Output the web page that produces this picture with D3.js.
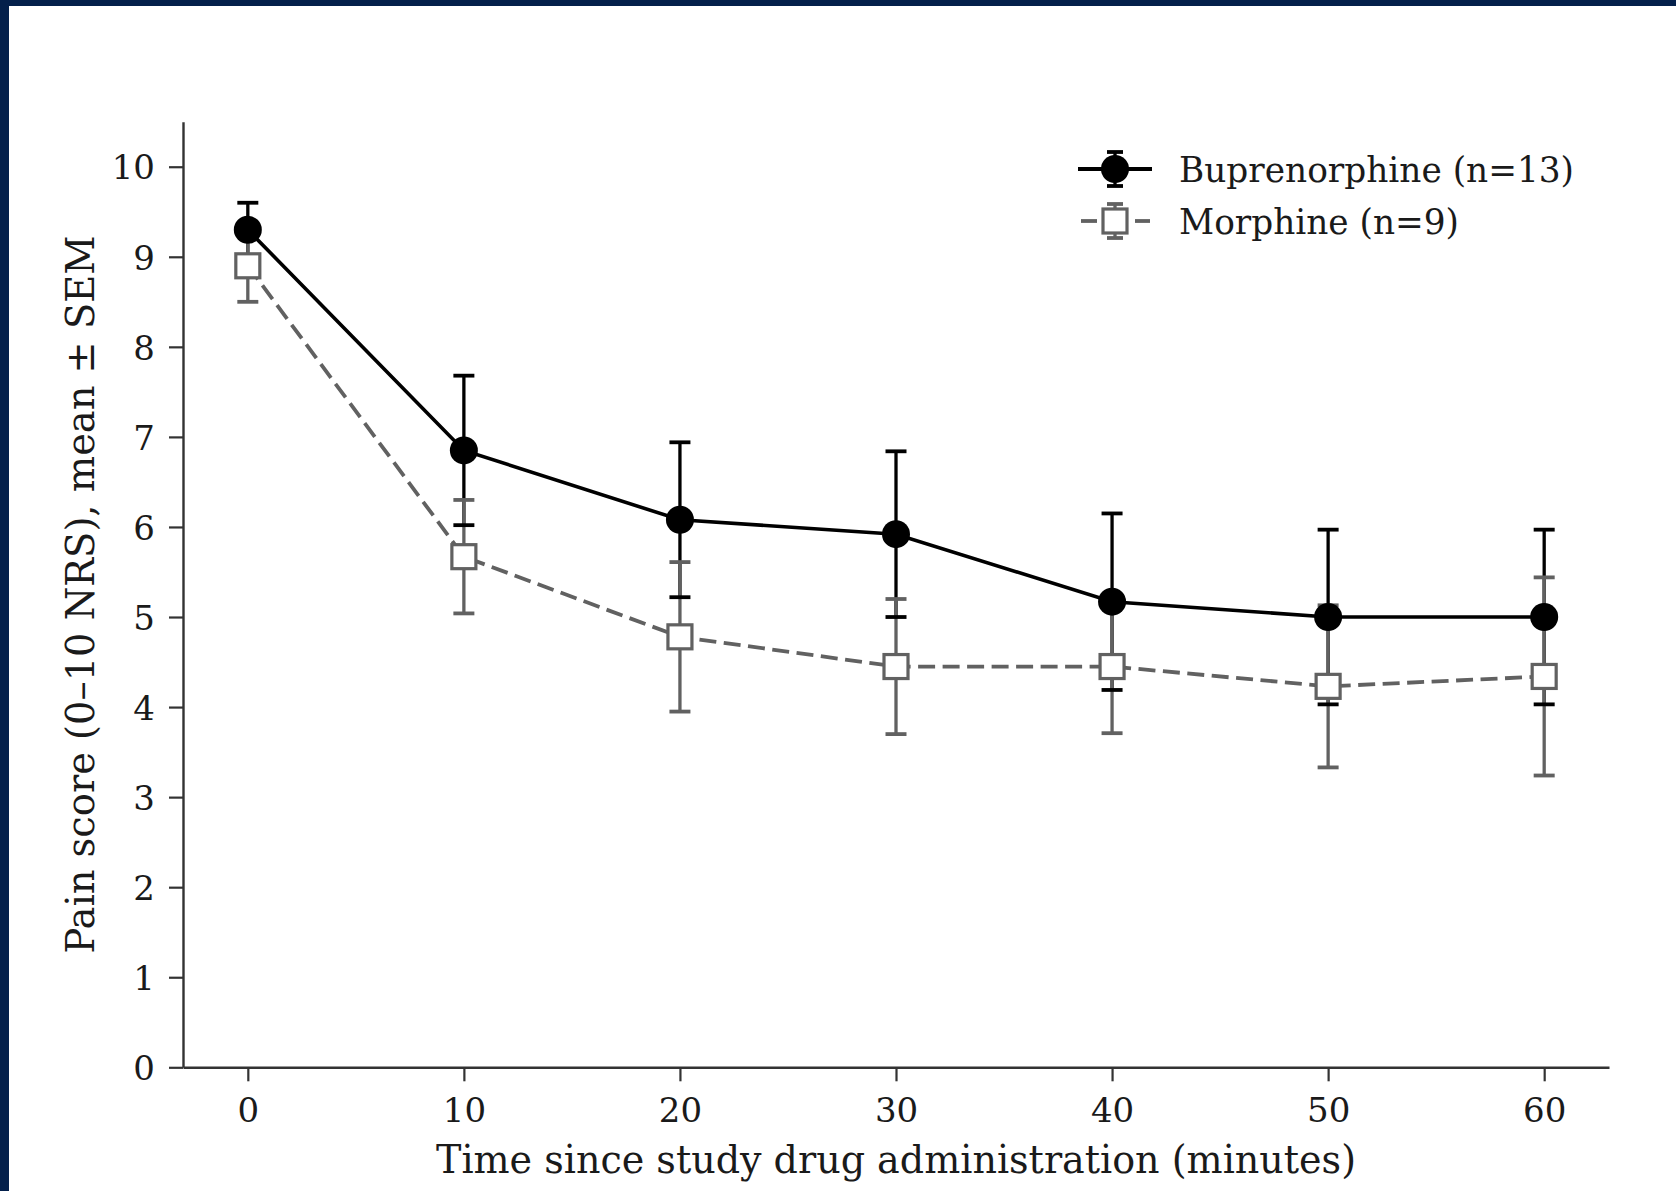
<!DOCTYPE html>
<html>
<head>
<meta charset="utf-8">
<script src="https://cdn.jsdelivr.net/npm/d3@7"></script>
<style>
  html, body { margin: 0; padding: 0; background: #fff; }
  svg { display: block; }
  text { font-family: "DejaVu Serif", serif; fill: #1a1a1a; }
</style>
</head>
<body>
<svg id="chart" width="1676" height="1191"></svg>
<script>
// ---- data ----
const times = [0, 10, 20, 30, 40, 50, 60];
const bupMean = [9.30, 6.85, 6.08, 5.92, 5.17, 5.00, 5.00];
const bupSem  = [0.30, 0.83, 0.86, 0.92, 0.98, 0.97, 0.97];
const morMean = [8.90, 5.67, 4.78, 4.45, 4.45, 4.23, 4.34];
const morSem  = [0.40, 0.63, 0.83, 0.75, 0.74, 0.90, 1.10];
const xTicks = [0, 10, 20, 30, 40, 50, 60];
const yTicks = [0, 1, 2, 3, 4, 5, 6, 7, 8, 9, 10];
const seriesNames = ["Buprenorphine (n=13)", "Morphine (n=9)"];
const xLabel = "Time since study drug administration (minutes)";
const yLabel = "Pain score (0\u201310 NRS), mean \u00b1 SEM";

(function () {
const svg = d3.select("#chart");
const W = 1676, H = 1191;
const mLeft = 183, mRight = 1609, mTop = 121.7, mBottom = 1067.3;

svg.append("rect").attr("width", W).attr("height", H).attr("fill", "#fff");
svg.append("rect").attr("x", 0).attr("y", 0).attr("width", W).attr("height", 6).attr("fill", "#04204b");
svg.append("rect").attr("x", 0).attr("y", 0).attr("width", 9).attr("height", H).attr("fill", "#04204b");

const x = d3.scaleLinear().domain([-3, 63]).range([mLeft, mRight]);
const y = d3.scaleLinear().domain([0, 10.5]).range([mBottom, mTop]);

const axisColor = "#333";
const gx = svg.append("g").attr("transform", `translate(0,${mBottom})`)
  .call(d3.axisBottom(x).tickValues(xTicks).tickSize(14).tickPadding(8).tickSizeOuter(0));
const gy = svg.append("g").attr("transform", `translate(${mLeft},0)`)
  .call(d3.axisLeft(y).tickValues(yTicks).tickSize(14).tickPadding(14).tickSizeOuter(0));
[gx, gy].forEach(g => {
  g.select(".domain").attr("stroke", axisColor).attr("stroke-width", 2.4);
  g.selectAll(".tick line").attr("stroke", axisColor).attr("stroke-width", 2.2);
  g.selectAll(".tick text").attr("font-family", "DejaVu Serif").attr("font-size", 34).attr("fill", "#1a1a1a");
});
gx.selectAll(".tick text").attr("dy", null).attr("y", 55);
gy.selectAll(".tick text").attr("dy", "0.36em");

svg.append("text").attr("x", (mLeft + mRight) / 2).attr("y", 1173)
  .attr("text-anchor", "middle").attr("font-size", 40)
  .attr("textLength", 920).attr("lengthAdjust", "spacingAndGlyphs").text(xLabel);
svg.append("text").attr("transform", `translate(94,${(mTop + mBottom) / 2}) rotate(-90)`)
  .attr("text-anchor", "middle").attr("font-size", 40)
  .attr("textLength", 718).attr("lengthAdjust", "spacingAndGlyphs").text(yLabel);

const series = [
  { mean: bupMean, sem: bupSem, color: "#000", dash: null, marker: "circle", lw: 3.6 },
  { mean: morMean, sem: morSem, color: "#616161", dash: "17,7.5", marker: "square", lw: 3.8 }
];
const capHalf = 10.5;

series.forEach(s => {
  svg.append("g").selectAll("line").data(times).join("line")
    .attr("x1", d => x(d)).attr("x2", d => x(d))
    .attr("y1", (d, i) => y(s.mean[i] + s.sem[i]))
    .attr("y2", (d, i) => y(s.mean[i] - s.sem[i]))
    .attr("stroke", s.color).attr("stroke-width", 3.3);
});
series.forEach(s => {
  const g = svg.append("g");
  [1, -1].forEach(sign => {
    g.selectAll(null).data(times).join("line")
      .attr("x1", d => x(d) - capHalf).attr("x2", d => x(d) + capHalf)
      .attr("y1", (d, i) => y(s.mean[i] + sign * s.sem[i]))
      .attr("y2", (d, i) => y(s.mean[i] + sign * s.sem[i]))
      .attr("stroke", s.color).attr("stroke-width", 3.8);
  });
});
series.forEach(s => {
  const line = d3.line().x(d => x(d)).y((d, i) => y(s.mean[i]));
  svg.append("path").datum(times).attr("d", line)
    .attr("fill", "none").attr("stroke", s.color).attr("stroke-width", s.lw)
    .attr("stroke-dasharray", s.dash);
});
series.forEach(s => {
  const g = svg.append("g");
  if (s.marker === "circle") {
    g.selectAll("circle").data(times).join("circle")
      .attr("cx", d => x(d)).attr("cy", (d, i) => y(s.mean[i])).attr("r", 14)
      .attr("fill", "#000");
  } else {
    g.selectAll("rect").data(times).join("rect")
      .attr("x", d => x(d) - 12).attr("y", (d, i) => y(s.mean[i]) - 12)
      .attr("width", 24).attr("height", 24)
      .attr("fill", "#fff").attr("stroke", s.color).attr("stroke-width", 3.2);
  }
});

const lg = svg.append("g");
const legX0 = 1078, legX1 = 1152, legMid = 1115, rows = [169, 221];
const legLen = [395, 280];
series.forEach((s, k) => {
  const yy = rows[k];
  if (s.dash) {
    lg.append("line").attr("x1", legX0 + 3).attr("x2", legX0 + 19).attr("y1", yy).attr("y2", yy)
      .attr("stroke", s.color).attr("stroke-width", s.lw);
    lg.append("line").attr("x1", legX1 - 17).attr("x2", legX1 - 2).attr("y1", yy).attr("y2", yy)
      .attr("stroke", s.color).attr("stroke-width", s.lw);
  } else {
    lg.append("line").attr("x1", legX0).attr("x2", legX1).attr("y1", yy).attr("y2", yy)
      .attr("stroke", s.color).attr("stroke-width", s.lw + 0.6);
  }
  lg.append("line").attr("x1", legMid).attr("x2", legMid).attr("y1", yy - 17).attr("y2", yy + 17)
    .attr("stroke", s.color).attr("stroke-width", 3.3);
  [-17, 17].forEach(o => lg.append("line").attr("x1", legMid - 8).attr("x2", legMid + 8)
    .attr("y1", yy + o).attr("y2", yy + o).attr("stroke", s.color).attr("stroke-width", 3.8));
  if (s.marker === "circle") {
    lg.append("circle").attr("cx", legMid).attr("cy", yy).attr("r", 14).attr("fill", "#000");
  } else {
    lg.append("rect").attr("x", legMid - 12).attr("y", yy - 12).attr("width", 24).attr("height", 24)
      .attr("fill", "#fff").attr("stroke", s.color).attr("stroke-width", 3.2);
  }
  lg.append("text").attr("x", 1179).attr("y", yy).attr("dy", "0.36em")
    .attr("font-size", 36).attr("textLength", legLen[k]).attr("lengthAdjust", "spacingAndGlyphs")
    .text(seriesNames[k]);
});
})();
</script>
</body>
</html>
